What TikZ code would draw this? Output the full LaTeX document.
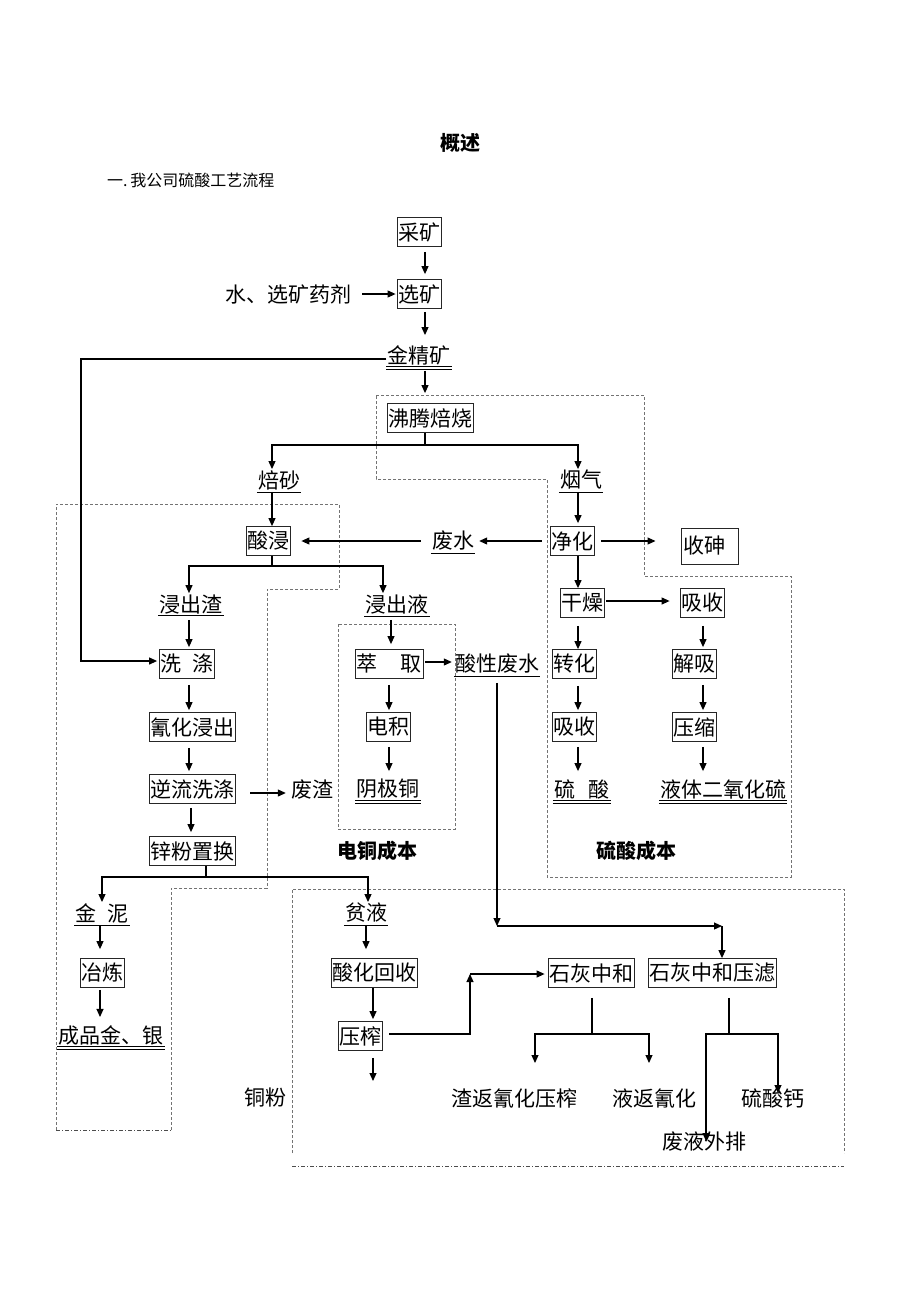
\documentclass[tikz,border=0pt]{standalone}
\usepackage{fontspec}
\newfontfamily\cjk{Noto Sans CJK SC}
\usetikzlibrary{arrows.meta,calc}
\tikzset{
  txt/.style={font=\cjk\fontsize{21}{25}\selectfont, inner sep=1pt},
  box/.style={txt, draw=black!85, line width=0.8pt, inner xsep=1pt, inner ysep=0pt, minimum height=29pt},
  arr/.style={-{Triangle[length=8pt,width=7pt]}, line width=1.1pt},
  stem/.style={line width=1.1pt},
  region/.style={draw=black!55, line width=0.6pt, dash pattern=on 3pt off 2pt},
  regionb/.style={draw=black!70, line width=0.9pt, dash pattern=on 4pt off 2pt on 1pt off 2pt},
  hd/.style={font=\cjk\bfseries\fontsize{20}{24}\selectfont, inner sep=1pt},
}
\newcommand\ulsingle[1]{\draw[line width=0.8pt] ([yshift=-1pt]#1.south west) -- ([yshift=-1pt]#1.south east);}
\newcommand\uldouble[1]{\draw[line width=0.8pt] ([yshift=-0.5pt]#1.south west) -- ([yshift=-0.5pt]#1.south east);
  \draw[line width=0.8pt] ([yshift=-3pt]#1.south west) -- ([yshift=-3pt]#1.south east);}
\begin{document}
\begin{tikzpicture}[x=1pt,y=-1pt]
\useasboundingbox (0,0) rectangle (920,1302);
\fill[white] (0,0) rectangle (920,1302);

% headings
\node[hd] (title) at (460,143) {概述};
\node[font=\cjk\fontsize{16}{20}\selectfont, anchor=west, inner sep=0pt] (sub) at (107,180) {一.\,我公司硫酸工艺流程};

% dashed regions
\draw[region] (376,395) -- (644,395) -- (644,576) -- (791,576) -- (791,877) -- (547,877) -- (547,479) -- (376,479) -- cycle;
\draw[region] (56,1130) -- (56,504) -- (339,504) -- (339,589) -- (267,589) -- (267,888) -- (171,888) -- (171,1130);
\draw[regionb] (56,1130) -- (171,1130);
\draw[region] (338,624) rectangle (455,829);
\draw[region] (292,1153) -- (292,889) -- (844,889) -- (844,1153);
\draw[regionb] (292,1166) -- (844,1166);

% top chain
\node[box] (ck) at (419,232) {采矿};
\node[box] (xk) at (419,294) {选矿};
\node[txt] (yj) at (288,294) {水、选矿药剂};
\node[txt] (jjk) at (419,355) {金精矿}; \uldouble{jjk}
\node[box] (fthl) at (430,418) {沸腾焙烧};
\node[txt] (bs) at (279,480) {焙砂}; \ulsingle{bs}
\node[txt] (yq) at (581,480) {烟气}; \ulsingle{yq}

% sulfuric acid branch
\node[box] (sj) at (268,541) {酸浸};
\node[txt] (fs) at (453,541) {废水}; \ulsingle{fs}
\node[box] (jh) at (572,541) {净化};
\node[txt, draw=black!85, line width=1pt, text width=53pt, align=left, minimum height=36pt, inner xsep=2pt] (ss) at (709.5,546) {收砷};
\node[box] (gz) at (582,603) {干燥};
\node[box] (xs1) at (702,603) {吸收};
\node[box] (zh) at (574,664) {转化};
\node[box] (jx) at (694,664) {解吸};
\node[box] (xs2) at (574,727) {吸收};
\node[box] (ys) at (694,727) {压缩};
\node[txt] (ls) at (582,789) {硫\hspace{14pt}酸\hspace{6pt}}; \uldouble{ls}
\node[txt] (yt) at (723,789) {液体二氧化硫}; \uldouble{yt}
\node[hd] (lscb) at (636,851) {硫酸成本};

% leaching branch
\node[txt] (jcz) at (191,604) {浸出渣}; \ulsingle{jcz}
\node[txt] (jcy) at (397,604) {浸出液}; \ulsingle{jcy}
\node[box] (xd) at (187,664) {洗\hspace{11pt}涤};
\node[box] (qhjc) at (192,727) {氰化浸出};
\node[box] (nlxd) at (192,789) {逆流洗涤};
\node[txt] (fz) at (312,790) {废渣};
\node[box] (xfzh) at (192,851) {锌粉置换};
\node[txt] (jn) at (102,913) {金\hspace{11pt}泥}; \ulsingle{jn}
\node[box] (yl) at (102,973) {冶炼};
\node[txt] (cpj) at (111,1035) {成品金、银}; \uldouble{cpj}

% copper branch
\node[box] (cq) at (389,664) {萃\hspace{24pt}取};
\node[txt] (sxfs) at (497,664) {酸性废水}; \ulsingle{sxfs}
\node[box] (dj) at (388,727) {电积};
\node[txt] (jjt) at (388,789) {阴极铜}; \uldouble{jjt}
\node[hd] (dtcb) at (377,851) {电铜成本};

% lower part
\node[txt] (py) at (366,913) {贫液}; \ulsingle{py}
\node[box] (shhs) at (374,973) {酸化回收};
\node[box] (yz) at (360,1036) {压榨};
\node[txt] (tf) at (265,1098) {铜粉};
\node[box] (shzh) at (591,973) {石灰中和};
\node[box] (shzhyl) at (712,973) {石灰中和压滤};
\node[txt] (zf) at (514,1098) {渣返氰化压榨};
\node[txt] (yf) at (654,1098) {液返氰化};
\node[txt] (slg) at (773,1098) {硫酸钙};
\node[txt] (fywp) at (704.5,1142) {废液外排};

% helper coordinates
\coordinate (s1) at (425,445);
\coordinate (s2) at (272,566);
\coordinate (s3) at (206,877);
\coordinate (k2) at (81,661);
\coordinate (m1) at (497,926);
\coordinate (m2) at (722,926);
\coordinate (p1) at (470,1034);
\coordinate (p2) at (470,974);
\coordinate (q1) at (592,1034);
\coordinate (q2) at (729,1034);
\coordinate (yzend) at (373,1081);
\coordinate (zfend) at (535,1063);
\coordinate (yfend) at (649,1063);
\coordinate (slgend) at (778,1093);
\coordinate (fyend) at (706,1141);

% connectors: top
\draw[arr, shorten <=5pt, shorten >=5pt] ([xshift=6pt]ck.south) -- ([xshift=6pt]xk.north);
\draw[arr, shorten <=10pt, shorten >=1pt] (yj.east) -- (xk.west);
\draw[arr, shorten <=3pt, shorten >=9pt] ([xshift=6pt]xk.south) -- ([xshift=6pt]jjk.north);
\draw[arr, shorten <=5pt, shorten >=10pt] ([xshift=6pt]jjk.south) -- ([xshift=-5pt]fthl.north);
\draw[stem] ([xshift=-5pt]fthl.south) -- (s1);
\draw[arr] (s1) -| ([xshift=-7pt]bs.north);
\draw[arr] (s1) -| ([xshift=-3pt]yq.north);

% acid leach
\draw[arr, shorten <=1pt] ([xshift=-7pt]bs.south) -- ([xshift=4pt]sj.north);
\draw[arr, shorten <=10pt, shorten >=11pt] (fs.west) -- (sj.east);
\draw[stem] ([xshift=4pt]sj.south) -- (s2);
\draw[arr] (s2) -| ([xshift=-2pt]jcz.north);
\draw[arr] (s2) -| ([xshift=-14pt]jcy.north);

% gas cleaning / acid plant
\draw[arr, shorten <=1pt, shorten >=3pt] ([xshift=-3pt]yq.south) -- ([xshift=6pt]jh.north);
\draw[arr, shorten <=8pt, shorten >=4pt] (jh.west) -- (fs.east);
\draw[arr, shorten <=7pt, shorten >=25pt] (jh.east) -- (jh.east -| ss.west);
\draw[arr] ([xshift=6pt]jh.south) -- ([xshift=-4pt]gz.north);
\draw[arr, shorten <=2pt, shorten >=10pt] ([yshift=2pt]gz.east) -- ([yshift=2pt]xs1.west);
\draw[arr, shorten <=8pt] ([xshift=-4pt]gz.south) -- ([xshift=4pt]zh.north);
\draw[arr, shorten <=8pt, shorten >=2pt] ([xshift=1pt]xs1.south) -- ([xshift=9pt]jx.north);
\draw[arr, shorten <=7pt, shorten >=2pt] ([xshift=4pt]zh.south) -- ([xshift=4pt]xs2.north);
\draw[arr, shorten <=6pt, shorten >=2pt] ([xshift=9pt]jx.south) -- ([xshift=9pt]ys.north);
\draw[arr, shorten <=5pt, shorten >=7pt] ([xshift=4pt]xs2.south) -- ([xshift=-4pt]ls.north);
\draw[arr, shorten <=5pt, shorten >=7pt] ([xshift=9pt]ys.south) -- ([xshift=-20pt]yt.north);

% cyanide branch
\draw[arr, shorten <=5pt, shorten >=2pt] ([xshift=-2pt]jcz.south) -- ([xshift=2pt]xd.north);
\draw[arr, shorten >=2pt] ([yshift=-4pt]jjk.west) -| (k2) -- (xd.west |- k2);
\draw[arr, shorten <=6pt, shorten >=2pt] ([xshift=2pt]xd.south) -- ([xshift=-3pt]qhjc.north);
\draw[arr, shorten <=6pt, shorten >=3pt] ([xshift=-3pt]qhjc.south) -- ([xshift=-3pt]nlxd.north);
\draw[arr, shorten <=15pt, shorten >=4pt] ([yshift=-4pt]nlxd.east) -- ([yshift=-3pt]fz.west);
\draw[arr, shorten <=4pt, shorten >=4pt] ([xshift=-1pt]nlxd.south) -- ([xshift=-1pt]xfzh.north);
\draw[stem] ([xshift=14pt]xfzh.south) -- (s3);
\draw[arr] (s3) -| (jn.north);
\draw[arr] (s3) -| ([xshift=2pt]py.north);
\draw[arr, shorten <=2pt, shorten >=9pt] ([xshift=-2pt]jn.south) -- ([xshift=-2pt]yl.north);
\draw[arr, shorten <=2pt, shorten >=7pt] ([xshift=-2pt]yl.south) -- ([xshift=-11pt]cpj.north);

% copper
\draw[arr, shorten <=5pt, shorten >=5pt] ([xshift=-6pt]jcy.south) -- ([xshift=2pt]cq.north);
\draw[arr, shorten <=2pt, shorten >=2pt] ([yshift=2pt]cq.east) -- ([yshift=2pt]sxfs.west);
\draw[arr, shorten <=6pt, shorten >=2pt] (cq.south) -- ([xshift=1pt]dj.north);
\draw[arr, shorten <=5pt, shorten >=7pt] ([xshift=1pt]dj.south) -- ([xshift=1pt]jjt.north);

% waste acid water to neutralization
\draw[arr, shorten <=8pt] (sxfs.south) -- (m1);
\draw[arr] (m1) -- (m2);
\draw[arr] (m2) -- (m2 |- shzhyl.north);

% lower left
\draw[arr, shorten <=1pt, shorten >=9pt] (py.south) -- ([xshift=-8pt]shhs.north);
\draw[arr, shorten >=2pt] ([xshift=-1pt]shhs.south) -- ([xshift=13pt]yz.north);
\draw[arr, shorten <=7pt] ([xshift=13pt]yz.south) -- (yzend);
\draw[arr, shorten <=7pt] ([yshift=2pt]yz.east) -- (p1) -- (p2);
\draw[arr, shorten >=3pt] (p2) -- (p2 -| shzh.west);

% neutralization products
\draw[stem, shorten <=10pt] ([xshift=1pt]shzh.south) -- (q1);
\draw[arr] (q1) -| (zfend);
\draw[arr] (q1) -| (yfend);
\draw[stem, shorten <=10pt] ([xshift=17pt]shzhyl.south) -- (q2);
\draw[arr] (q2) -| (slgend);
\draw[arr] (q2) -| (fyend);
\end{tikzpicture}
\end{document}
